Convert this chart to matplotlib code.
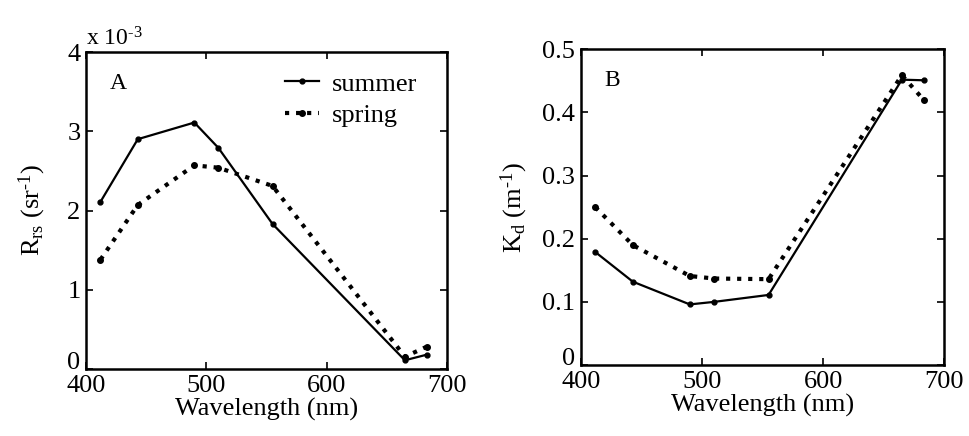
import matplotlib
matplotlib.use("Agg")
import matplotlib.pyplot as plt

wavelength = [412, 443, 490, 510, 555, 665, 683]
rrs_summer = [2.11, 2.90, 3.11, 2.79, 1.83, 0.11, 0.18]
rrs_spring = [1.38, 2.07, 2.57, 2.54, 2.31, 0.155, 0.28]
kd_summer = [0.179, 0.132, 0.096, 0.100, 0.111, 0.452, 0.451]
kd_spring = [0.250, 0.190, 0.141, 0.137, 0.136, 0.459, 0.420]
xticks = [400, 500, 600, 700]
rrs_ticks = [0, 1, 2, 3, 4]
kd_ticks = [0, 0.1, 0.2, 0.3, 0.4, 0.5]
kd_ticklabels = ["0", "0.1", "0.2", "0.3", "0.4", "0.5"]

plt.rcParams['font.family'] = ['Liberation Serif', 'DejaVu Serif']
plt.rcParams['mathtext.fontset'] = 'custom'
plt.rcParams['mathtext.rm'] = 'Liberation Serif'
plt.rcParams['mathtext.it'] = 'Liberation Serif:italic'

fig = plt.figure(figsize=(9.69, 4.36), dpi=100)
axA = fig.add_axes([0.0888, 0.1537, 0.3725, 0.727])
axB = fig.add_axes([0.5993, 0.1628, 0.3752, 0.724])

fs_tick = 19
fs_lab = 19

def style(ax):
    ax.tick_params(direction='in', top=True, right=True, length=5, width=1.2,
                   labelsize=fs_tick, pad=4)
    for s in ax.spines.values():
        s.set_linewidth(1.8)
    ax.set_xlim(400, 700)
    ax.set_xticks(xticks)
    ax.set_xlabel('Wavelength (nm)', fontsize=fs_lab, labelpad=1)

axA.plot(wavelength, rrs_summer, '-', color='black', lw=1.6, marker='o', ms=3.5, label='summer')
axA.plot(wavelength, rrs_spring, ':', color='black', lw=3.0, marker='o', ms=4, label='spring')
style(axA)
axA.set_ylim(0, 4)
axA.set_yticks(rrs_ticks)
axA.set_ylabel(r'R$_{\rm rs}$ (sr$^{\text{-1}}$)', fontsize=fs_lab, labelpad=14)
axA.text(0.0, 1.005, r'x 10$^{\text{-3}}$', transform=axA.transAxes, fontsize=17, ha='left', va='bottom')
axA.text(0.065, 0.9, 'A', transform=axA.transAxes, fontsize=17, ha='left', va='center')
axA.legend(loc='upper right', frameon=False, fontsize=19, handlelength=1.3,
           handletextpad=0.5, labelspacing=0.3, borderaxespad=0.3, bbox_to_anchor=(0.97, 0.995))

axB.plot(wavelength, kd_summer, '-', color='black', lw=1.6, marker='o', ms=3.5)
axB.plot(wavelength, kd_spring, ':', color='black', lw=3.0, marker='o', ms=4)
style(axB)
axB.set_ylim(0, 0.5)
axB.set_yticks(kd_ticks)
axB.set_yticklabels(kd_ticklabels)
axB.set_ylabel(r'K$_{\rm d}$ (m$^{\text{-1}}$)', fontsize=fs_lab, labelpad=9)
axB.text(0.065, 0.9, 'B', transform=axB.transAxes, fontsize=17, ha='left', va='center')

for ax in (axA, axB):
    ax.yaxis.get_major_ticks()[0].label1.set_verticalalignment('baseline')

fig.savefig('out.png', dpi=100)
